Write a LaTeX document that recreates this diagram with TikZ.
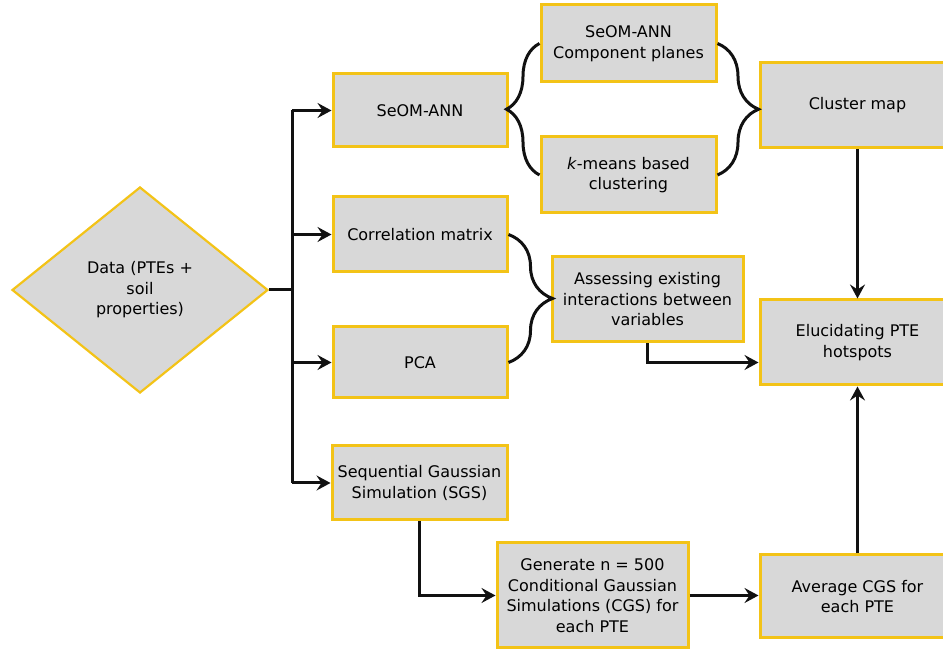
\documentclass[tikz,border=0pt]{standalone}
\usepackage{fontspec}
\setmainfont{DejaVu Sans}
\usepackage{tikz}
\usetikzlibrary{arrows.meta,positioning,shapes.geometric,decorations.pathreplacing}
\definecolor{Edge}{HTML}{F3C317}
\definecolor{Box}{HTML}{D8D8D8}
\definecolor{Ink}{HTML}{111111}

\begin{document}
\begin{tikzpicture}[
 x=1pt,y=1pt,
 font=\fontsize{16}{20.5}\selectfont,
 b/.style={draw=Edge,line width=3pt,fill=Box,align=center,inner sep=2pt},
 d/.style={diamond,draw=Edge,line width=2.2pt,fill=Box,align=center,minimum width=256pt,minimum height=206pt,inner sep=0pt},
 a/.style={-{Stealth[length=14pt,width=15pt,inset=5pt]},line width=3pt,draw=Ink},
 l/.style={line width=3pt,draw=Ink},
 br/.style={decorate,decoration={brace,amplitude=#1},line width=3pt,draw=Ink}
]
\useasboundingbox (0,0) rectangle (943,653);
\node[d] (data) at (140,363) {Data (PTEs +\\soil\\properties)};
\node[b,minimum width=174pt,minimum height=73pt] (seom) at (420,542.5) {SeOM-ANN};
\node[b,minimum width=174pt,minimum height=75pt] (corr) at (420,418.5) {Correlation matrix};
\node[b,minimum width=174pt,minimum height=71pt] (pca) at (420,290.5) {PCA};
\node[b,minimum width=175pt,minimum height=74pt] (sgs) at (419.5,170) {Sequential Gaussian\\Simulation (SGS)};
\node[b,minimum width=175pt,minimum height=77pt] (comp) at (628.5,609.5) {SeOM-ANN\\Component planes};
\node[b,minimum width=175pt,minimum height=76pt] (kmeans) at (628.5,478) {\textit{k}-means based\\clustering};
\node[b,minimum width=191pt,minimum height=85pt] (assess) at (647.5,353.5) {Assessing existing\\interactions between\\variables};
\node[b,minimum width=191pt,minimum height=105pt] (gen) at (592.5,57.5) {Generate n = 500\\Conditional Gaussian\\Simulations (CGS) for\\each PTE};
\node[b,minimum width=195pt,minimum height=85pt] (cluster) at (857.5,547.5) {Cluster map};
\node[b,minimum width=195pt,minimum height=85pt] (eluc) at (857.5,310.5) {Elucidating PTE\\hotspots};
\node[b,minimum width=195pt,minimum height=83pt] (avg) at (857.5,56.5) {Average CGS for\\each PTE};
\coordinate (jn) at (292,363);
% trunk and branches
\draw[l] (data.east) -- (jn);
\draw[l] (jn |- seom.west) -- (jn |- sgs.west);
\foreach \n in {seom,corr,pca,sgs} \draw[a] (jn |- \n.west) -- (\n.west);
% braces
\draw[br=33pt] (kmeans.west) -- (comp.west);
\draw[br=41pt] (comp.east) -- (kmeans.east);
\draw[br=44pt] (corr.east) -- (pca.east);
% flows
\draw[a] (cluster) -- (eluc);
\draw[a] (assess.south) |- ([yshift=-20pt]eluc.west);
\draw[a] (sgs.south) |- (gen.west);
\draw[a] (gen.east) -- (gen.east -| avg.west);
\draw[a] (avg) -- (eluc);
\end{tikzpicture}
\end{document}
